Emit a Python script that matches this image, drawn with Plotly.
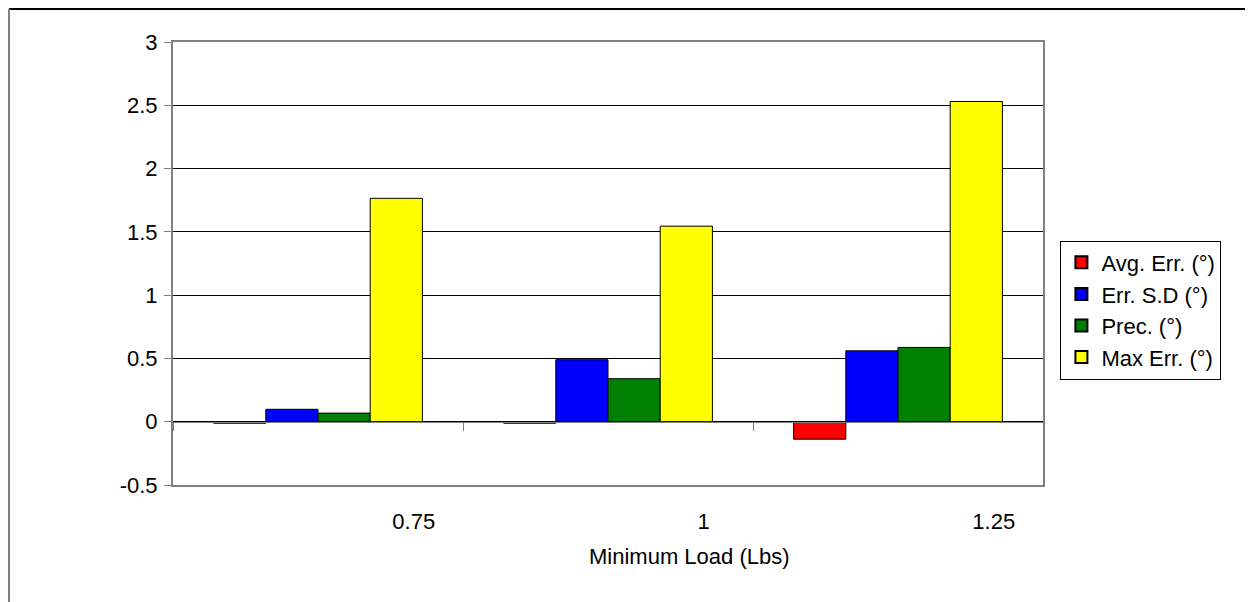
import plotly.graph_objects as go

categories = ["0.75", "1", "1.25"]
series_names = ["Avg. Err. (°)", "Err. S.D (°)", "Prec. (°)", "Max Err. (°)"]
avg_err = [-0.012, -0.012, -0.138]
err_sd = [0.098, 0.49, 0.56]
prec = [0.068, 0.34, 0.587]
max_err = [1.765, 1.545, 2.53]
colors = ["#FF0000", "#0000FF", "#008000", "#FFFF00"]
y_ticks = [-0.5, 0, 0.5, 1, 1.5, 2, 2.5, 3]
y_ticktext = ["-0.5", "0", "0.5", "1", "1.5", "2", "2.5", "3"]

FONT = "Liberation Sans, Arial, sans-serif"
FS = 22
x_pos = list(range(len(categories)))
label_pos = [p + 0.33 for p in x_pos]

fig = go.Figure()
for name, vals, col in zip(series_names, [avg_err, err_sd, prec, max_err], colors):
    fig.add_trace(go.Bar(
        x=x_pos, y=vals, name=name,
        marker=dict(color=col, line=dict(color="black", width=1)),
    ))

fig.update_layout(
    width=1253, height=602,
    margin=dict(l=165, r=218, t=34, b=125),
    paper_bgcolor="white", plot_bgcolor="white",
    barmode="group", bargap=0.28, bargroupgap=0,
    font=dict(family=FONT, size=FS, color="black"),
    showlegend=True,
    legend=dict(
        x=1.02, xanchor="left", y=0.395, yanchor="middle",
        bordercolor="black", borderwidth=1, bgcolor="white",
        font=dict(family=FONT, size=FS, color="black"),
        tracegroupgap=0, itemsizing="constant",
    ),
    xaxis=dict(
        range=[-0.5, 2.5],
        tickvals=label_pos, ticktext=categories,
        ticks="", showgrid=False, zeroline=False,
        showline=True, linecolor="#808080", linewidth=2, mirror=True,
        ticklabelstandoff=16,
    ),
    xaxis2=dict(
        matches="x", overlaying="x", anchor="free",
        position=(0 - (-0.5)) / 3.5,
        tickvals=[-0.5, 0.5, 1.5, 2.5], showticklabels=False,
        ticks="outside", ticklen=8, tickcolor="#808080", tickwidth=1,
        showline=True, linecolor="#808080", linewidth=1,
        showgrid=False, zeroline=False,
    ),
    yaxis=dict(
        range=[-0.5, 3],
        tickvals=y_ticks, ticktext=y_ticktext,
        showgrid=True, gridcolor="black", gridwidth=1,
        zeroline=False,
        showline=True, linecolor="#808080", linewidth=2, mirror=True,
        ticks="outside", ticklen=7, tickcolor="#808080",
        ticklabelstandoff=2,
    ),
    annotations=[dict(
        text="Minimum Load (Lbs)", xref="x", yref="paper",
        x=1.28, y=-0.1625, xanchor="center", yanchor="middle",
        showarrow=False, font=dict(family=FONT, size=FS, color="black"),
    )],
    shapes=[
        dict(type="line", xref="paper", yref="paper", x0=-0.1885, x1=1.5,
             y0=1.0745, y1=1.0745, line=dict(color="black", width=2)),
        dict(type="line", xref="paper", yref="paper", x0=-0.1885, x1=-0.1885,
             y0=1.0745, y1=-0.4, line=dict(color="#808080", width=2)),
    ],
)
# helper trace to activate xaxis2 (tick marks on the zero line)
fig.add_trace(go.Bar(x=[0], y=[None], xaxis="x2", showlegend=False, hoverinfo="skip"))

fig.write_html("out.html")
